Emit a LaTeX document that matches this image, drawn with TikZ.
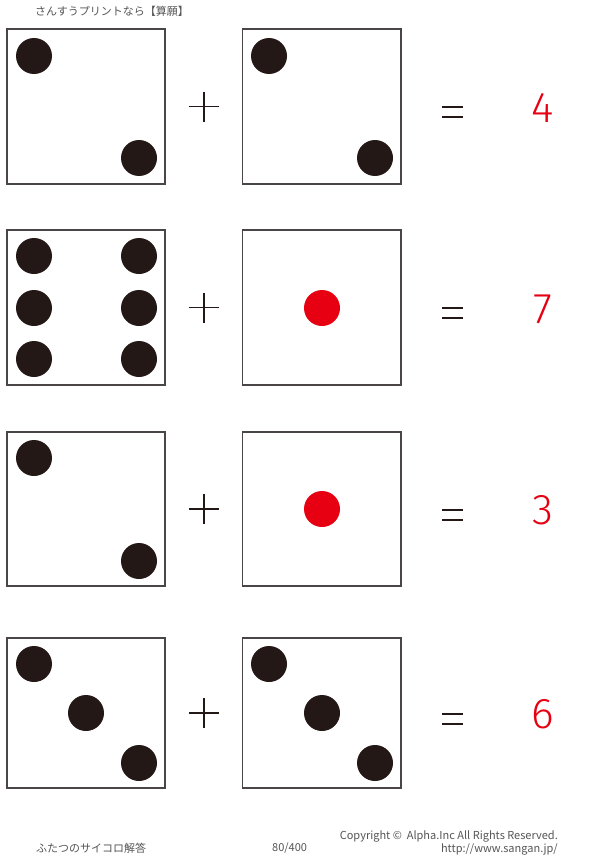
\documentclass[tikz,border=0pt]{standalone}
\usepackage{fontspec}
\setmainfont{Noto Sans CJK JP}
\newfontfamily\numfont{Fira Sans Light}
\definecolor{pipc}{HTML}{231815}
\definecolor{edgec}{HTML}{4A4646}
\definecolor{ansred}{HTML}{E60012}
\definecolor{txtc}{HTML}{555555}
\begin{document}
\begin{tikzpicture}[x=1pt,y=-1pt,
  diebox/.style={draw=edgec,line width=1.3pt,fill=white},
  pip/.style={circle,fill=pipc,draw=none,minimum size=36pt,inner sep=0pt},
  redpip/.style={circle,fill=ansred,draw=none,minimum size=36pt,inner sep=0pt},
  opline/.style={draw=pipc,line width=1.6pt},
  eqline/.style={draw=pipc,line width=2pt},
  ans/.style={text=ansred,font=\numfont\fontsize{43}{43}\selectfont,inner sep=0pt},
  small/.style={text=txtc,font=\fontsize{11}{11}\selectfont,inner sep=0pt}]
\useasboundingbox[fill=white] (0,0) rectangle (600,859);

% header
\node[small,anchor=west] (head) at (35,11.5) {さんすうプリントなら【算願】};

% ---------- row 1 ----------
\draw[diebox] (7,29) rectangle (165,184);
\node[pip] (r1la) at (34,56) {};
\node[pip] (r1lb) at (139,158) {};
\draw[diebox] (242.5,29) rectangle (401,184);
\node[pip] (r1ra) at (269,56) {};
\node[pip] (r1rb) at (375,158) {};
\draw[opline] (189,106.5) -- (219,106.5) (204,91.5) -- (204,121.5);
\draw[eqline] (442,107) -- (463,107) (442,117) -- (463,117);
\node[ans] (a1) at (543,108) {4};

% ---------- row 2 ----------
\draw[diebox] (7,230) rectangle (165,385);
\node[pip] (r2la) at (34,256) {};
\node[pip] (r2lb) at (139,256) {};
\node[pip] (r2lc) at (34,308) {};
\node[pip] (r2ld) at (139,308) {};
\node[pip] (r2le) at (34,359) {};
\node[pip] (r2lf) at (139,359) {};
\draw[diebox] (242.5,230) rectangle (401,385);
\node[redpip] (r2ra) at (322,308) {};
\draw[opline] (189,307.5) -- (219,307.5) (204,292.5) -- (204,322.5);
\draw[eqline] (442,308) -- (463,308) (442,318) -- (463,318);
\node[ans] (a2) at (543,309) {7};

% ---------- row 3 ----------
\draw[diebox] (7,432) rectangle (165,586);
\node[pip] (r3la) at (34,458) {};
\node[pip] (r3lb) at (139,561) {};
\draw[diebox] (242.5,432) rectangle (401,586);
\node[redpip] (r3ra) at (322,509) {};
\draw[opline] (189,509) -- (219,509) (204,494) -- (204,524);
\draw[eqline] (442,509.5) -- (463,509.5) (442,519.5) -- (463,519.5);
\node[ans] (a3) at (543,510.5) {3};

% ---------- row 4 ----------
\draw[diebox] (7,638) rectangle (165,788);
\node[pip] (r4la) at (34,664) {};
\node[pip] (r4lb) at (86,713) {};
\node[pip] (r4lc) at (139,763) {};
\draw[diebox] (242.5,638) rectangle (401,788);
\node[pip] (r4ra) at (269,664) {};
\node[pip] (r4rb) at (322,713) {};
\node[pip] (r4rc) at (375,763) {};
\draw[opline] (189,713) -- (219,713) (204,698) -- (204,728);
\draw[eqline] (442,713.5) -- (463,713.5) (442,723.5) -- (463,723.5);
\node[ans] (a4) at (543,714.5) {6};

% footer
\node[small,anchor=west] (foot1) at (36,848) {ふたつのサイコロ解答};
\node[small,anchor=west] (foot2) at (272,848) {80/400};
\node[small,anchor=east] (copy) at (558,836.5) {Copyright ©\ \ Alpha.Inc All Rights Reserved.};
\node[small,anchor=east] (url) at (558,849.5) {http://www.sangan.jp/};
\end{tikzpicture}
\end{document}
